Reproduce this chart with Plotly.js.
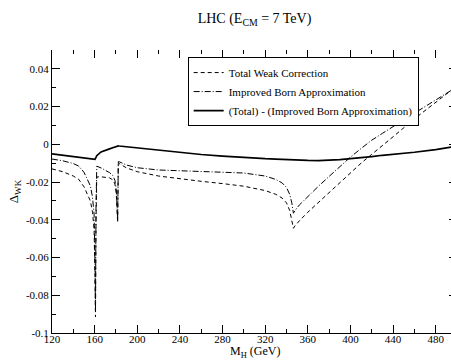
<!DOCTYPE html>
<html>
<head>
<meta charset="utf-8">
<script src="https://cdn.plot.ly/plotly-3.0.1.min.js"></script>
<style>
html, body { margin: 0; padding: 0; overflow: hidden; background: #fff; }
#chart { width: 460px; height: 360px; }
</style>
</head>
<body>
<div id="chart"></div>
<script>
// Higgs mass (GeV)
var mh = [120, 130, 140, 145, 150, 153, 156, 158, 159.5, 160.3, 160.8, 161.3, 162, 166, 170, 174, 177, 179, 180.3, 181, 181.6, 182.2, 183, 190, 200, 220, 240, 260, 280, 300, 320, 330, 336, 340, 343, 345, 346.5, 348, 352, 360, 370, 380, 390, 400, 410, 420, 430, 440, 460, 480, 500];

// Total Weak Correction
var totalWeak = [-0.013, -0.0145, -0.0168, -0.0185, -0.0225, -0.026, -0.030, -0.036, -0.045, -0.070, -0.0915, -0.040, -0.0173, -0.0172, -0.0174, -0.0178, -0.0188, -0.021, -0.026, -0.033, -0.0415, -0.0102, -0.0102, -0.0125, -0.0145, -0.0168, -0.0183, -0.0196, -0.0208, -0.0222, -0.0245, -0.0265, -0.0285, -0.031, -0.035, -0.040, -0.0445, -0.0432, -0.0406, -0.036, -0.0307, -0.0255, -0.0202, -0.015, -0.010, -0.0053, -0.0008, 0.0040, 0.0135, 0.0225, 0.031];

// Improved Born Approximation
var improvedBorn = [-0.0078, -0.0087, -0.0102, -0.0115, -0.0148, -0.0182, -0.022, -0.028, -0.037, -0.062, -0.088, -0.033, -0.0116, -0.0125, -0.0138, -0.0150, -0.0165, -0.019, -0.024, -0.031, -0.040, -0.0092, -0.0092, -0.0110, -0.0124, -0.0136, -0.0140, -0.0142, -0.0146, -0.0152, -0.0168, -0.0186, -0.0205, -0.0228, -0.0265, -0.031, -0.0365, -0.035, -0.0322, -0.0275, -0.0222, -0.017, -0.0118, -0.0068, -0.0022, 0.0022, 0.0058, 0.0095, 0.0165, 0.0235, 0.0305];

// (Total) - (Improved Born Approximation)
var difference = [-0.005, -0.0058, -0.0066, -0.0070, -0.0074, -0.0076, -0.0078, -0.0080, -0.0081, -0.0080, -0.0075, -0.0068, -0.0060, -0.0040, -0.0030, -0.0024, -0.0018, -0.0013, -0.0010, -0.0009, -0.0008, -0.0008, -0.0009, -0.0013, -0.0020, -0.0032, -0.0043, -0.0054, -0.0062, -0.0070, -0.0076, -0.0078, -0.0080, -0.0081, -0.0081, -0.0082, -0.0082, -0.0083, -0.0084, -0.0085, -0.0086, -0.0085, -0.0081, -0.0076, -0.0072, -0.0065, -0.0058, -0.0053, -0.0042, -0.0028, -0.0010];

var xTickVals = [120, 160, 200, 240, 280, 320, 360, 400, 440, 480];
var yTickVals = [-0.1, -0.08, -0.06, -0.04, -0.02, 0, 0.02, 0.04];
var yTickText = ['-0.1', '-0.08', '-0.06', '-0.04', '-0.02', '0', '0.02', '0.04'];

var seriesNames = ['Total Weak Correction', 'Improved Born Approximation', '(Total) - (Improved Born Approximation)'];

var serif = "'Liberation Serif', 'Times New Roman', Times, serif";

var traces = [
  {x: mh, y: totalWeak, name: seriesNames[0], type: 'scatter', mode: 'lines',
   line: {color: '#000', width: 1, dash: '4px,3px'}},
  {x: mh, y: improvedBorn, name: seriesNames[1], type: 'scatter', mode: 'lines',
   line: {color: '#000', width: 1, dash: '6px,2px,1px,2px'}},
  {x: mh, y: difference, name: seriesNames[2], type: 'scatter', mode: 'lines',
   line: {color: '#000', width: 1.7}}
];

var tickFont = {family: serif, size: 11, color: '#000'};

var layout = {
  width: 460, height: 360,
  margin: {l: 52, r: 3, t: 49.5, b: 27},
  paper_bgcolor: '#fff', plot_bgcolor: '#fff',
  showlegend: true,
  title: {text: 'LHC (E<sub>CM</sub> = 7 TeV)', font: {family: serif, size: 14, color: '#000'},
          x: 0.5, xref: 'paper', y: 0.95, yref: 'container', yanchor: 'middle'},
  legend: {x: 0.335, y: 0.975, xanchor: 'left', yanchor: 'top', bgcolor: '#fff',
           bordercolor: '#000', borderwidth: 1, font: {family: serif, size: 11, color: '#000'}},
  xaxis: {range: [120, 500], tickmode: 'array', tickvals: xTickVals, ticks: 'inside', ticklen: 8,
          tickcolor: '#000', showline: true, linecolor: '#000', linewidth: 1, showgrid: false, zeroline: false,
          tickfont: tickFont, ticklabelstandoff: -4,
          minor: {tickmode: 'linear', tick0: 120, dtick: 20, ticks: 'inside', ticklen: 4, tickcolor: '#000', showgrid: false}},
  yaxis: {range: [-0.1, 0.05], tickmode: 'array', tickvals: yTickVals, ticktext: yTickText, ticks: 'inside', ticklen: 8,
          tickcolor: '#000', showline: true, linecolor: '#000', linewidth: 1, showgrid: false, zeroline: false,
          tickfont: tickFont,
          minor: {tickmode: 'linear', tick0: 0, dtick: 0.01, ticks: 'inside', ticklen: 4, tickcolor: '#000', showgrid: false},
          title: {text: 'Δ<sub>WK</sub>', font: {family: serif, size: 13, color: '#000'}, standoff: 4}},
  xaxis2: {overlaying: 'x', side: 'top', anchor: 'y', range: [120, 500], tickmode: 'array', tickvals: xTickVals,
           ticks: 'inside', ticklen: 8, tickcolor: '#000', showticklabels: false, showline: false, showgrid: false, zeroline: false,
           minor: {tickmode: 'linear', tick0: 120, dtick: 20, ticks: 'inside', ticklen: 4, tickcolor: '#000', showgrid: false}},
  yaxis2: {overlaying: 'y', side: 'right', anchor: 'x', range: [-0.1, 0.05], tickmode: 'array', tickvals: yTickVals,
           ticks: 'inside', ticklen: 8, tickcolor: '#000', showticklabels: false, showline: false, showgrid: false, zeroline: false,
           minor: {tickmode: 'linear', tick0: 0, dtick: 0.01, ticks: 'inside', ticklen: 4, tickcolor: '#000', showgrid: false}},
  annotations: [
    {text: 'M<sub>H</sub> (GeV)', xref: 'paper', yref: 'paper', x: 0.5, y: -0.066, xanchor: 'center', yanchor: 'middle',
     showarrow: false, font: {family: serif, size: 12, color: '#000'}}
  ]
};

// invisible helper trace so the mirrored tick axes are drawn
traces.push({x: [mh[0]], y: [totalWeak[0]], xaxis: 'x2', yaxis: 'y2', mode: 'lines', showlegend: false,
             hoverinfo: 'skip', line: {color: 'rgba(0,0,0,0)'}});

Plotly.newPlot('chart', traces, layout, {staticPlot: true, displayModeBar: false});
</script>
</body>
</html>
